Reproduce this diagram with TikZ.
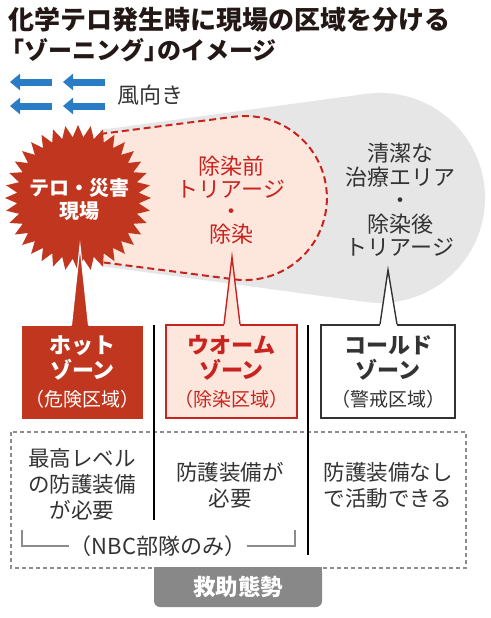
\documentclass[tikz,border=0pt]{standalone}
\usepackage{fontspec}
\setmainfont{Noto Sans CJK JP}
\usetikzlibrary{arrows.meta}

\definecolor{ink}{HTML}{333333}
\definecolor{titleink}{HTML}{231815}
\definecolor{hotred}{HTML}{C1361E}
\definecolor{warmred}{HTML}{C8231F}
\definecolor{pinkfill}{HTML}{FDE7DC}
\definecolor{zonegray}{HTML}{E6E6E6}
\definecolor{windblue}{HTML}{2A7CC4}
\definecolor{tabgray}{HTML}{888888}
\definecolor{linegray}{HTML}{8C8C8C}

\newcommand\fsz[2]{\fontsize{#1}{#2}\selectfont}

\begin{document}
\begin{tikzpicture}[x=1pt, y=-1pt,
  every node/.style={align=center, inner sep=0pt, text=ink},
  wind/.style={windblue, line width=7pt, -{Triangle[length=10pt, width=16pt]}},
  zonebox/.style={minimum width=#1, minimum height=93pt, line width=1.4pt, font=\fsz{22}{25}\bfseries},
  bodytext/.style={font=\fsz{21.5}{26}}]
\useasboundingbox[fill=white] (0,0) rectangle (490,618);

% title
\node[anchor=west, text=titleink, font=\fsz{26}{30}\bfseries] (title1) at (8,20) {化学テロ発生時に現場の区域を分ける};
\node[anchor=west, text=titleink, font=\fsz{24}{30}\bfseries] (title2) at (0,50) {「ゾーニング」\kern-0.45em のイメージ};

% wind
\coordinate (w1s) at (52,82);  \coordinate (w1e) at (10,82);
\coordinate (w2s) at (105,82); \coordinate (w2e) at (63,82);
\coordinate (w3s) at (52,106); \coordinate (w3e) at (10,106);
\coordinate (w4s) at (105,106); \coordinate (w4e) at (63,106);
\foreach \i in {1,...,4} \draw[wind] (w\i s) -- (w\i e);
\node[anchor=west, font=\fsz{22}{24}] (windlabel) at (117,95) {風向き};

% zones
\fill[zonegray] (100,130) -- (365.8,93.9) arc[start angle=-97.8, end angle=97.8, radius=105] -- (100,266) -- cycle;
\fill[pinkfill] (100,134) -- (234.5,116.7) arc[start angle=-97.3, end angle=97.3, radius=82] -- (100,262) -- cycle;
\draw[warmred, line width=2pt, dash pattern=on 7pt off 4pt] (100,134) -- (234.5,116.7) arc[start angle=-97.3, end angle=97.3, radius=82] -- (100,262);

% site burst
\fill[hotred] ([shift={(78,198)}]0:73pt) \foreach \k [evaluate=\k as \r using {mod(\k,2)==0 ? 73 : 61}] in {1,...,71} { -- ([shift={(78,198)}]\k*5:\r pt) } -- cycle;
\node[text=white, font=\fsz{20}{23}\bfseries] (site) at (79,199) {テロ・災害\\現場};

\node[text=warmred, font=\fsz{22}{22.5}] (before) at (231,200) {除染前\\トリアージ\\・\\除染};
\node[font=\fsz{22}{23.5}] (clean) at (400,200) {清潔な\\治療エリア\\・\\除染後\\トリアージ};

% zone boxes
\node[zonebox=121pt, fill=hotred, text=white] (hot) at (82.5,372)
  {ホット\\ゾーン\\[3pt]\mdseries\fsz{19}{22}（危険区域）};
\node[zonebox=131pt, fill=pinkfill, draw=warmred, text=warmred] (warm) at (231.5,371.5)
  {ウオーム\\ゾーン\\[3pt]\mdseries\fsz{19}{22}（除染区域）};
\node[zonebox=134pt, fill=white, draw=ink] (cold) at (388,371.5)
  {コールド\\ゾーン\\[3pt]\mdseries\fsz{19}{22}（警戒区域）};

% pointers
\coordinate (hottip) at (80,246);
\coordinate (warmtip) at (232,257);
\coordinate (coldtip) at (388,270);
\fill[hotred] (hottip) -- ([xshift=6pt, yshift=-1pt]hot.north) -- ([xshift=-11pt, yshift=-1pt]hot.north) -- cycle;
\draw[white, line width=1.2pt] ([xshift=-11pt]hot.north) -- (hottip) -- ([xshift=6pt]hot.north);
\fill[pinkfill] (warmtip) -- ([xshift=8.5pt, yshift=-1.5pt]warm.north) -- ([xshift=-7.5pt, yshift=-1.5pt]warm.north) -- cycle;
\draw[warmred, line width=1.4pt] ([xshift=-7.5pt]warm.north) -- (warmtip) -- ([xshift=8.5pt]warm.north);
\fill[white] (coldtip) -- ([xshift=9pt, yshift=-1.5pt]cold.north) -- ([xshift=-8pt, yshift=-1.5pt]cold.north) -- cycle;
\draw[ink, line width=1.4pt] ([xshift=-8pt]cold.north) -- (coldtip) -- ([xshift=9pt]cold.north);

% readiness
\draw[linegray, line width=1.2pt, dash pattern=on 4pt off 3pt] (11,432) rectangle (466,568);
\draw[black, line width=1.3pt] (154,325) -- (154,520);
\draw[black, line width=1.3pt] (308,325) -- (308,555);
\node[bodytext] (gear1) at (82,484) {最高レベル\\の防護装備\\が必要};
\node[bodytext] (gear2) at (230,485) {防護装備が\\必要};
\node[bodytext] (gear3) at (388,485) {防護装備なし\\で活動できる};
\node[font=\fsz{22}{24}, inner xsep=1pt] (nbc) at (158,546) {（NBC部隊のみ）};
\draw[linegray, line width=1.2pt] (nbc.west) -- (22,546) -- (22,530);
\draw[linegray, line width=1.2pt] (nbc.east) -- (295,546) -- (295,530);

\fill[tabgray] (154,567) rectangle (322,580);
\node[fill=tabgray, rounded corners=6pt, minimum width=168pt, minimum height=40pt, text=white, font=\fsz{22.5}{26}\bfseries] (tab) at (238,587) {救助態勢};
\end{tikzpicture}
\end{document}
